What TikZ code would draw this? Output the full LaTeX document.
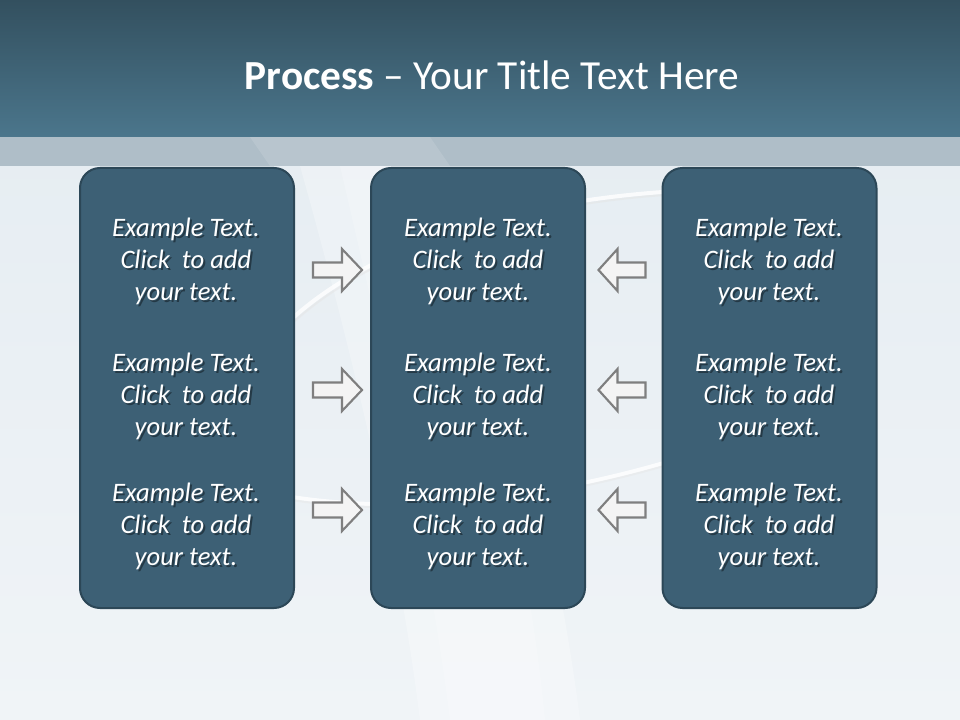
\documentclass[tikz,border=0pt]{standalone}
\usepackage{fontspec}
\setmainfont{Carlito}
\usetikzlibrary{shadows}
\definecolor{bandtop}{HTML}{33505F}
\definecolor{bandbot}{HTML}{4B768C}
\definecolor{greyband}{HTML}{AFBEC8}
\definecolor{bgtop}{HTML}{E6EDF2}
\definecolor{bgbot}{HTML}{F0F4F7}
\definecolor{boxfill}{HTML}{3D6075}
\definecolor{boxline}{HTML}{2C4757}
\definecolor{arrowline}{HTML}{7F7F7F}
\definecolor{arrowfill}{HTML}{F4F4F4}
\tikzset{
  x=0.75pt, y=-0.75pt,
  panel/.style={draw=boxline, line width=1.5pt, fill=boxfill, rounded corners=15pt},
  bodytext/.style={align=center, text=white, font=\itshape\fontsize{20}{24}\selectfont, inner sep=0pt},
  shadowtext/.style={align=center, text=black, opacity=0.4, font=\itshape\fontsize{20}{24}\selectfont, inner sep=0pt},
  arrowshape/.style={draw=arrowline, fill=arrowfill, line width=1.6pt, line join=miter},
}
\newcommand{\blocktext}{Example Text.\\Click\ \ to add\\your text.}
\begin{document}
\begin{tikzpicture}
\useasboundingbox (0,0) rectangle (960,720);
% background
\shade[top color=bgtop, bottom color=bgbot] (0,137) rectangle (960,720);
\fill[white, opacity=0.25] (300,166) -- (450,166) .. controls (520,400) and (560,560) .. (580,720) -- (420,720) .. controls (400,560) and (360,380) .. (300,166) -- cycle;
\fill[white, opacity=0.2] (340,166) -- (430,166) .. controls (490,400) and (530,560) .. (545,720) -- (450,720) .. controls (430,560) and (390,380) .. (340,166) -- cycle;
\draw[white, line width=3pt, opacity=0.8] (280,330) .. controls (380,230) and (560,195) .. (700,190);
\draw[white!80!gray, line width=1.5pt, opacity=0.5] (282,333) .. controls (382,233) and (562,198) .. (702,193);
\draw[white, line width=3pt, opacity=0.8] (280,495) .. controls (420,520) and (580,490) .. (690,455);
\draw[white!80!gray, line width=1.5pt, opacity=0.4] (280,498) .. controls (420,523) and (580,493) .. (690,458);
% grey band
\fill[greyband] (0,137) rectangle (960,166);
\fill[white, opacity=0.12] (250,137) -- (430,137) -- (450,166) -- (270,166) -- cycle;
% title band
\shade[top color=bandtop, bottom color=bandbot] (0,0) rectangle (960,137);
\node[text=white, font=\fontsize{31}{36}\selectfont, inner sep=0pt] (title) at (492,75) {\textbf{Process} – Your Title Text Here};
% panels
\node[panel, minimum width=160.5pt, minimum height=330pt] (left) at (187,388) {};
\node[panel, minimum width=160.5pt, minimum height=330pt] (mid) at (478,388) {};
\node[panel, minimum width=160.5pt, minimum height=330pt] (right) at (769.5,388) {};
% texts
\foreach \cx/\nm in {186/l, 478/m, 769/r}{
  \foreach \cy/\k in {261/a, 396/b, 526/c}{
    \node[shadowtext] at (\cx+2,\cy+2) {\blocktext};
    \node[bodytext] (t\nm\k) at (\cx,\cy) {\blocktext};
  }
}
% arrows
\foreach \ay in {270, 390, 510}{
  \draw[arrowshape, shift={(337.5,\ay)}] (-24.5,-7.5) -- (4.5,-7.5) -- (4.5,-21) -- (24.5,0) -- (4.5,21) -- (4.5,7.5) -- (-24.5,7.5) -- cycle;
  \draw[arrowshape, shift={(621.5,\ay)}] (24,-7.5) -- (-4,-7.5) -- (-4,-21) -- (-23,0) -- (-4,21) -- (-4,7.5) -- (24,7.5) -- cycle;
}
\end{tikzpicture}
\end{document}
